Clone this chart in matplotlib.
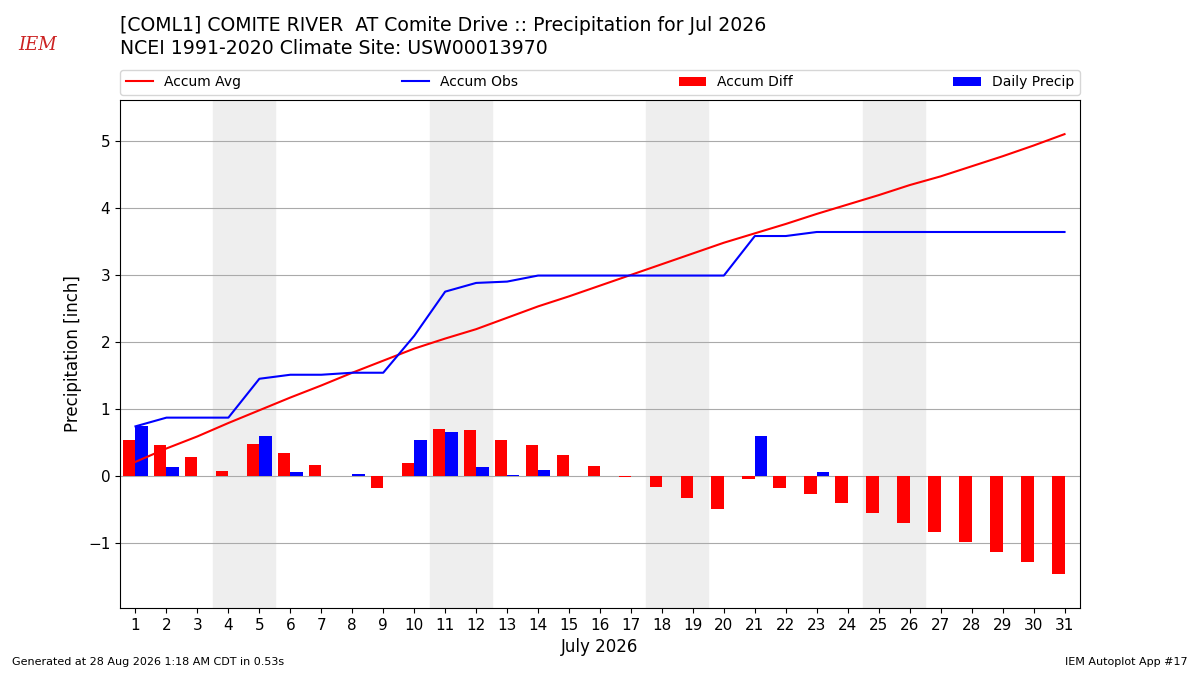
# daily precipitation vs climatology, July 2026

import numpy as np
import matplotlib.pyplot as plt

days = np.arange(1, 32)
daily_precip = [0.74, 0.13, 0.00, 0.00, 0.59, 0.06, 0.00, 0.03, 0.00, 0.54,
                0.66, 0.13, 0.02, 0.09, 0.00, 0.00, 0.00, 0.00, 0.00, 0.00,
                0.59, 0.00, 0.06, 0.00, 0.00, 0.00, 0.00, 0.00, 0.00, 0.00,
                0.00]
accum_obs = [0.74, 0.87, 0.87, 0.87, 1.45, 1.51, 1.51, 1.54, 1.54, 2.09,
             2.75, 2.88, 2.90, 2.99, 2.99, 2.99, 2.99, 2.99, 2.99, 2.99,
             3.58, 3.58, 3.64, 3.64, 3.64, 3.64, 3.64, 3.64, 3.64, 3.64,
             3.64]
accum_avg = [0.21, 0.41, 0.59, 0.79, 0.98, 1.17, 1.35, 1.54, 1.72, 1.90,
             2.05, 2.19, 2.36, 2.53, 2.68, 2.84, 3.00, 3.16, 3.32, 3.48,
             3.62, 3.76, 3.91, 4.05, 4.19, 4.34, 4.47, 4.62, 4.77, 4.93,
             5.10]
accum_diff = np.array(accum_obs) - np.array(accum_avg)
weekends = [(4, 5), (11, 12), (18, 19), (25, 26)]

fig = plt.figure(figsize=(12, 6.75), dpi=100)
ax = fig.add_axes([0.1, 0.0993, 0.8, 0.7526])

for start, end in weekends:
    ax.axvspan(start - 0.5, end + 0.5, color='#eeeeee', zorder=0)

ax.plot(days, accum_avg, color='r', label='Accum Avg', zorder=3)
ax.plot(days, accum_obs, color='b', label='Accum Obs', zorder=3)
ax.bar(days, accum_diff, width=-0.4, align='edge', color='r',
       label='Accum Diff', zorder=2)
ax.bar(days, daily_precip, width=0.4, align='edge', color='b',
       label='Daily Precip', zorder=2)

ax.grid(axis='y', color='#aaaaaa', linewidth=0.8)
ax.set_axisbelow(True)
ax.set_xlim(0.5, 31.5)
ax.set_ylim(-1.97, 5.61)
ax.set_xticks(days)
ax.tick_params(axis='both', which='major', labelsize=11)
ax.set_xlabel('July 2026', fontsize=12)
ax.set_ylabel('Precipitation [inch]', fontsize=12)

ax.legend(loc='lower left', bbox_to_anchor=(0, 1.01, 1, 0.05), ncol=4,
          mode='expand', borderaxespad=0, fontsize=10)

fig.text(0.1, 0.962, '[COML1] COMITE RIVER  AT Comite Drive :: Precipitation for Jul 2026',
         fontsize=13.6, va='center')
fig.text(0.1, 0.928, 'NCEI 1991-2020 Climate Site: USW00013970',
         fontsize=13.6, va='center')
fig.text(0.031, 0.933, 'IEM', fontsize=13, color='#cc2222', family='serif',
         style='italic', va='center', ha='center')
fig.text(0.01, 0.015, 'Generated at 28 Aug 2026 1:18 AM CDT in 0.53s', fontsize=8)
fig.text(0.99, 0.015, 'IEM Autoplot App #17', fontsize=8, ha='right')

fig.savefig('out.png', dpi=100)
